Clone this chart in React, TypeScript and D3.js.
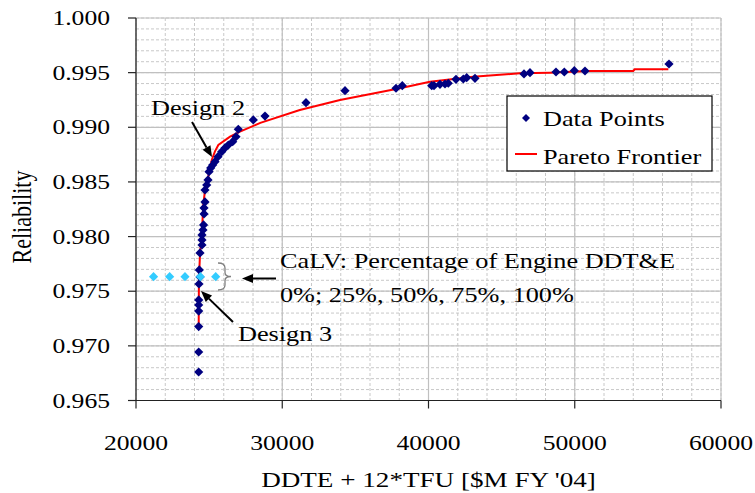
import React from "react";
import * as d3 from "d3";

const dataCost = [24287, 24287, 24287, 24287, 24287, 24290, 24308, 24376, 24328, 24376, 24513, 24513, 24513, 24581, 24620, 24650, 24650, 24718, 24718, 24834, 24923, 24992, 25108, 25244, 25402, 25607, 25860, 26085, 26311, 26612, 26838, 26995, 28021, 28821, 31624, 34291, 37778, 38208, 40219, 40376, 40786, 41128, 41354, 41880, 42380, 42612, 43179, 46530, 46940, 48718, 49286, 49970, 50701, 56444];
const dataRel = [0.96761, 0.96944, 0.97176, 0.97318, 0.97374, 0.9742, 0.97566, 0.9763, 0.97695, 0.9785, 0.97923, 0.97969, 0.98015, 0.98061, 0.98107, 0.98207, 0.98262, 0.98317, 0.98426, 0.98472, 0.98518, 0.98594, 0.98628, 0.98655, 0.98685, 0.98731, 0.98777, 0.98811, 0.98838, 0.98868, 0.98914, 0.98982, 0.99067, 0.99103, 0.99225, 0.99335, 0.99357, 0.99381, 0.99381, 0.99381, 0.99393, 0.99396, 0.99403, 0.99439, 0.99442, 0.99454, 0.99448, 0.99488, 0.995, 0.99506, 0.99506, 0.99518, 0.99515, 0.99579];

const paretoCost = [24287, 24300, 24330, 24380, 24500, 24600, 24720, 24900, 25050, 25180, 25400, 25630, 26430, 27110, 28500, 31200, 33950, 38050, 40100, 43050, 46250, 48300, 50900, 54000, 54100, 56400];
const paretoRel = [0.97176, 0.97566, 0.97695, 0.9785, 0.98015, 0.9829, 0.98426, 0.9852, 0.9862, 0.98701, 0.9878, 0.98838, 0.98914, 0.9896, 0.9904, 0.99158, 0.9925, 0.99357, 0.99417, 0.99463, 0.99494, 0.995, 0.99515, 0.99515, 0.99531, 0.99531];

const calvCost = [21200, 22300, 23350, 24400, 25450];
const calvRel = [0.97633, 0.97633, 0.97633, 0.97633, 0.97633];

const xTicks = [20000, 30000, 40000, 50000, 60000];
const yTicks = [0.965, 0.97, 0.975, 0.98, 0.985, 0.99, 0.995, 1.0];

const FONT = "'Liberation Serif', 'Times New Roman', serif";
const SX = 1.25;

function T({ x, y, size = 21, anchor = "start", children }: any) {
  return (
    <text
      transform={`translate(${x},${y}) scale(${SX},1)`}
      fontFamily={FONT}
      fontSize={size}
      textAnchor={anchor}
      fill="#000"
    >
      {children}
    </text>
  );
}

function diamond(cx: number, cy: number, r: number) {
  return `M${cx},${cy - r}L${cx + r},${cy}L${cx},${cy + r}L${cx - r},${cy}Z`;
}

function Arrow({ x1, y1, x2, y2 }: any) {
  const ang = Math.atan2(y2 - y1, x2 - x1);
  const L = 11, W = 4.5;
  const bx = x2 - L * Math.cos(ang), by = y2 - L * Math.sin(ang);
  const px = -Math.sin(ang) * W, py = Math.cos(ang) * W;
  return (
    <g>
      <line x1={x1} y1={y1} x2={bx} y2={by} stroke="#000" strokeWidth={2} />
      <path d={`M${x2},${y2}L${bx + px},${by + py}L${bx - px},${by - py}Z`} fill="#000" />
    </g>
  );
}

export default function App() {
  const left = 136, right = 721, top = 18, bottom = 400.5;
  const x = d3.scaleLinear().domain([20000, 60000]).range([left, right]);
  const y = d3.scaleLinear().domain([0.965, 1.0]).range([bottom, top]);

  const xMinor = d3.range(20000, 60001, 2000);
  const yMinor = d3.range(0, 36).map((i) => 0.965 + i * 0.001);

  const line = d3
    .line<number>()
    .x((d, i) => x(paretoCost[i]))
    .y((d, i) => y(paretoRel[i]));

  const bx = 218, by1 = 263, by2 = 290, bm = (by1 + by2) / 2;

  return (
    <svg width={755} height={493} style={{ position: "absolute", left: 0, top: 0, background: "#fff" }}>
      <rect x={0} y={0} width={755} height={493} fill="#fff" />
      {/* minor grid */}
      {xMinor.map((v) => (
        <line key={"xm" + v} x1={x(v)} x2={x(v)} y1={top} y2={bottom} stroke="#c8c8c8" strokeDasharray="3,2" />
      ))}
      {yMinor.map((v, i) => (
        <line key={"ym" + i} x1={left} x2={right} y1={y(v)} y2={y(v)} stroke="#c8c8c8" strokeDasharray="3,2" />
      ))}
      {/* major grid */}
      {xTicks.map((v) => (
        <line key={"xg" + v} x1={x(v)} x2={x(v)} y1={top} y2={bottom} stroke="#c0c0c0" strokeWidth={1.2} />
      ))}
      {yTicks.map((v) => (
        <line key={"yg" + v} x1={left} x2={right} y1={y(v)} y2={y(v)} stroke="#c0c0c0" strokeWidth={1.2} />
      ))}
      {/* axes */}
      <line x1={left} x2={left} y1={top} y2={bottom} stroke="#222" strokeWidth={1.2} />
      <line x1={left} x2={right} y1={bottom} y2={bottom} stroke="#222" strokeWidth={1.2} />
      {yTicks.map((v) => (
        <g key={"yt" + v}>
          <line x1={left - 8} x2={left} y1={y(v)} y2={y(v)} stroke="#222" strokeWidth={1.2} />
          <T x={110} y={y(v) + 7} size={20.5} anchor="end">{v.toFixed(3)}</T>
        </g>
      ))}
      {xTicks.map((v) => (
        <g key={"xt" + v}>
          <line x1={x(v)} x2={x(v)} y1={bottom} y2={bottom + 8} stroke="#222" strokeWidth={1.2} />
          <T x={x(v)} y={450} size={20.5} anchor="middle">{String(v)}</T>
        </g>
      ))}
      <T x={(left + right) / 2} y={487} size={21.7} anchor="middle">DDTE + 12*TFU [$M FY '04]</T>
      <text
        transform={`translate(31,${217}) rotate(-90) scale(1,${SX})`}
        fontFamily={FONT}
        fontSize={22}
        textAnchor="middle"
      >
        Reliability
      </text>

      {/* pareto frontier */}
      <path d={line(paretoCost) || ""} fill="none" stroke="#ff0000" strokeWidth={2} />
      {/* data points */}
      {dataCost.map((c, i) => (
        <path key={"d" + i} d={diamond(x(c), y(dataRel[i]), 4.6)} fill="#000080" />
      ))}
      {calvCost.map((c, i) => (
        <path key={"c" + i} d={diamond(x(c), y(calvRel[i]), 4.6)} fill="#33ccff" />
      ))}

      {/* annotations */}
      <T x={151} y={115} size={21}>Design 2</T>
      <Arrow x1={192} y1={122} x2={212} y2={157} />
      <T x={238} y={341} size={21}>Design 3</T>
      <Arrow x1={233} y1={322} x2={201} y2={291} />
      <path
        d={`M${bx},${by1} Q${bx + 7},${by1} ${bx + 7},${by1 + 5} L${bx + 7},${bm - 4} Q${bx + 7},${bm} ${bx + 13},${bm} Q${bx + 7},${bm} ${bx + 7},${bm + 4} L${bx + 7},${by2 - 5} Q${bx + 7},${by2} ${bx},${by2}`}
        fill="none"
        stroke="#808080"
        strokeWidth={1.3}
      />
      <Arrow x1={276} y1={278.5} x2={242} y2={278.5} />
      <T x={280} y={268} size={21}>CaLV: Percentage of Engine DDT&amp;E</T>
      <T x={280} y={302} size={21}>0%; 25%, 50%, 75%, 100%</T>

      {/* legend */}
      <rect x={507} y={96} width={205} height={75} fill="#fff" stroke="#000" strokeWidth={1.2} />
      <path d={diamond(526, 118, 4)} fill="#000080" />
      <T x={543} y={126} size={21}>Data Points</T>
      <line x1={515} x2={537} y1={154} y2={154} stroke="#ff0000" strokeWidth={2} />
      <T x={543} y={164} size={21}>Pareto Frontier</T>
    </svg>
  );
}
